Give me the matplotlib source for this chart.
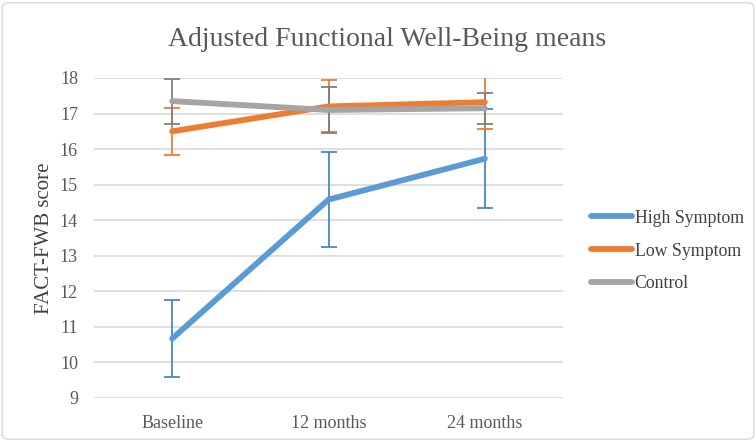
import matplotlib
matplotlib.use("Agg")
import matplotlib.pyplot as plt
from matplotlib.patches import FancyBboxPatch
from matplotlib.lines import Line2D

categories = ["Baseline", "12 months", "24 months"]
high = [10.67, 14.58, 15.73]
high_err = [1.09, 1.34, 1.40]
low = [16.50, 17.20, 17.32]
low_err = [0.67, 0.73, 0.75]
control = [17.35, 17.10, 17.15]
control_err = [0.63, 0.65, 0.44]
yticks = list(range(9, 19))

plt.rcParams['font.family'] = ['Liberation Serif', 'DejaVu Serif']

fig = plt.figure(figsize=(7.56, 4.41), dpi=100)
border = FancyBboxPatch((0.003, 0.004), 0.994, 0.99, boxstyle="round,pad=0,rounding_size=0.01",
                        transform=fig.transFigure, facecolor="white", edgecolor="#D9D9D9", lw=1, zorder=-10)
fig.patches.append(border)
ax = fig.add_axes([94/756, 1-398/441, (563-94)/756, (398-78)/441])
ax.set_facecolor("none")

x = list(range(len(categories)))
series = [("High Symptom", high, high_err, "#5B9BD5", "#4A86C5"),
          ("Low Symptom", low, low_err, "#ED7D31", "#ED7D31"),
          ("Control", control, control_err, "#A5A5A5", "#808080")]
for name, vals, err, col, ecol in series:
    ax.errorbar(x, vals, yerr=err, color=col, lw=4.2, ecolor=ecol, elinewidth=1.3,
                capsize=6, capthick=1.3, label=name, solid_capstyle="round", zorder=3)

ax.set_xlim(-0.5, 2.5)
ax.set_ylim(9, 18)
ax.set_yticks(yticks)
ax.set_xticks(x)
ax.set_xticklabels(categories)
ax.grid(axis="y", color="#D9D9D9", lw=1.2)
ax.set_axisbelow(True)
for s in ax.spines.values():
    s.set_visible(False)
ax.tick_params(axis="y", length=0, labelsize=13, colors="#595959", pad=11.5)
ax.tick_params(axis="x", length=0, labelsize=13, colors="#595959", pad=12)
ax.set_ylabel("FACT-FWB score", fontsize=15, color="#404040")
ax.yaxis.set_label_coords(-0.085, 0.5)
fig.text(387/756, 1-40/441, "Adjusted Functional Well-Being means", ha="center", va="center",
         fontsize=20, color="#595959")

labels = [s[0] for s in series]
hs = [Line2D([0], [0], color=c, lw=4.2, solid_capstyle="round") for _, _, _, c, _ in series]
fig.legend(hs, labels, loc="center left", bbox_to_anchor=(575/756, 1-251/441), frameon=False,
           fontsize=12.8, handlelength=2.3, handletextpad=0.15, labelspacing=0.9, labelcolor="#404040")

fig.savefig("out.png", dpi=100)
